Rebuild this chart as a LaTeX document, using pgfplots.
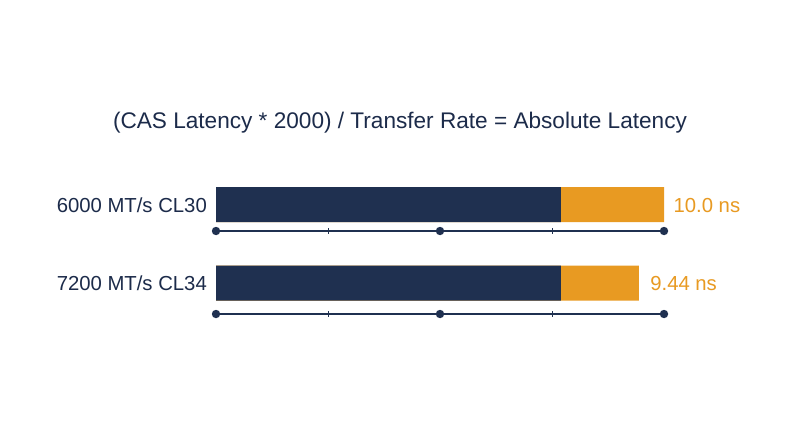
\documentclass[border=0pt]{standalone}
\usepackage{pgfplots}
\pgfplotsset{compat=1.18}
\usepackage{fontspec}
\setmainfont{Liberation Sans}
\definecolor{navy}{HTML}{1F3050}
\definecolor{amber}{HTML}{E89A22}
\definecolor{txt}{HTML}{1C2B4A}
\begin{document}
\begin{tikzpicture}
\begin{axis}[
  width=800pt, height=447pt, scale only axis,
  xmin=-4.8214, xmax=13.0357,
  ymin=0, ymax=447, y dir=reverse,
  hide axis,
  clip=false,
]
\path[fill=white] (rel axis cs:0,0) rectangle (rel axis cs:1,1);
% total absolute latency (orange) with the CAS share (navy) over it
\addplot[xbar, bar width=35, bar shift=0pt, fill=amber, draw=none] coordinates {(10.0,204.5) (9.44,283)};
\addplot[xbar, bar width=35, bar shift=0pt, fill=navy, draw=none] coordinates {(7.70,204.5) (7.70,283)};
% scale lines
\addplot[sharp plot, navy, line width=1.3pt, mark=*, mark size=3.5pt, mark options={fill=navy}] coordinates {(0,231) (5,231) (10,231)};
\addplot[sharp plot, navy, line width=1.3pt, mark=*, mark size=3.5pt, mark options={fill=navy}] coordinates {(0,314) (5,314) (10,314)};
\addplot[only marks, navy, mark=|, mark size=3pt, mark options={line width=0.8pt}] coordinates {(2.5,231) (7.5,231) (2.5,314) (7.5,314)};
\node[text=txt, inner sep=0pt, anchor=base, font=\fontsize{22.6}{26}\selectfont] at (axis cs:4.107,128.5) {(CAS Latency * 2000) / Transfer Rate = Absolute Latency};
\node[text=txt, inner sep=0pt, anchor=base east, font=\fontsize{20.3}{24}\selectfont] at (axis cs:-0.2,212.3) {6000 MT/s CL30};
\node[text=txt, inner sep=0pt, anchor=base east, font=\fontsize{20.3}{24}\selectfont] at (axis cs:-0.2,290.8) {7200 MT/s CL34};
\node[text=amber, inner sep=0pt, anchor=base west, font=\fontsize{20.3}{24}\selectfont] at (axis cs:10.21,212.3) {10.0 ns};
\node[text=amber, inner sep=0pt, anchor=base west, font=\fontsize{20.3}{24}\selectfont] at (axis cs:9.69,290.8) {9.44 ns};
\end{axis}
\end{tikzpicture}
\end{document}
